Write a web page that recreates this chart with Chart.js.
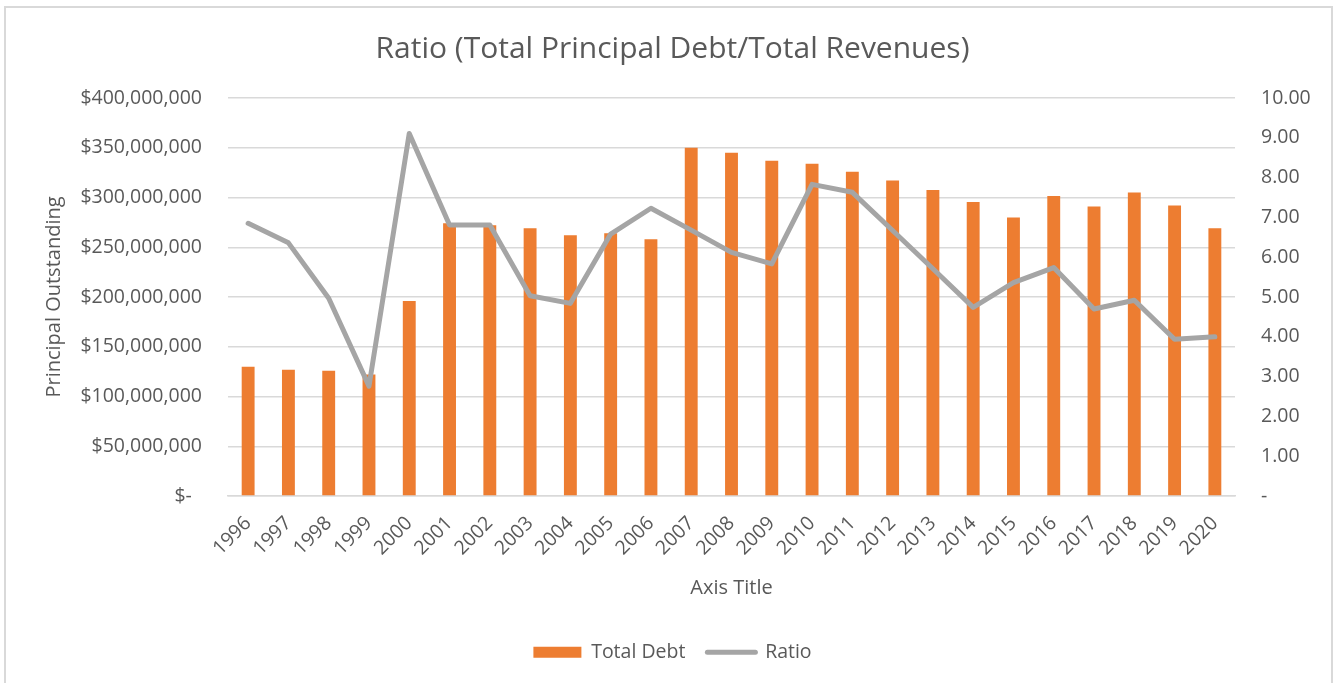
<!DOCTYPE html>
<html>
<head>
<meta charset="utf-8">
<script src="https://cdn.jsdelivr.net/npm/chart.js@4.4.0/dist/chart.umd.min.js"></script>
<style>
  html, body { margin: 0; padding: 0; background: #fff; }
  #wrap { position: absolute; left: 0; top: 0; width: 1333px; height: 683px; }
</style>
</head>
<body>
<div id="wrap"><canvas id="c" width="1333" height="683"></canvas></div>
<script>
const years = ['1996','1997','1998','1999','2000','2001','2002','2003','2004','2005','2006','2007','2008','2009','2010','2011','2012','2013','2014','2015','2016','2017','2018','2019','2020'];
const totalDebt = [130000000, 127000000, 126000000, 122000000, 196000000, 274000000, 272000000, 269000000, 262000000, 264000000, 258000000, 350000000, 345000000, 337000000, 334000000, 326000000, 317000000, 307500000, 295500000, 280000000, 301500000, 291000000, 305000000, 292000000, 269000000];
const ratio = [6.85, 6.36, 4.97, 2.76, 9.11, 6.81, 6.81, 5.03, 4.84, 6.58, 7.23, 6.68, 6.12, 5.83, 7.83, 7.63, 6.67, 5.71, 4.74, 5.36, 5.74, 4.70, 4.92, 3.94, 4.00];
const leftTicks = [0, 50000000, 100000000, 150000000, 200000000, 250000000, 300000000, 350000000, 400000000];
const rightTicks = [0, 1, 2, 3, 4, 5, 6, 7, 8, 9, 10];

const FONT = "'Open Sans', 'DejaVu Sans', sans-serif";
const TXT = '#595959';
const GRID = '#D9D9D9';
const ORANGE = '#ED7D31';
const GRAY = '#A5A5A5';

const PAD_LEFT = 12;
const PLOT_LEFT = 228, PLOT_RIGHT = 1235, PLOT_BOTTOM = 496, PAD_BOTTOM = 11;

const borderPlugin = {
  id: 'frame',
  beforeDraw(chart) {
    const ctx = chart.ctx;
    ctx.save();
    ctx.fillStyle = '#fff';
    ctx.fillRect(0, 0, chart.width, chart.height);
    ctx.strokeStyle = GRID;
    ctx.lineWidth = 2;
    ctx.strokeRect(5, 7, 1327, 700);
    ctx.restore();
  }
};

new Chart(document.getElementById('c'), {
  type: 'bar',
  data: {
    labels: years,
    datasets: [
      {
        type: 'bar',
        label: 'Total Debt',
        data: totalDebt,
        backgroundColor: ORANGE,
        borderWidth: 0,
        yAxisID: 'y',
        order: 2,
        categoryPercentage: 1,
        barPercentage: 0.32
      },
      {
        type: 'line',
        label: 'Ratio',
        data: ratio,
        borderColor: GRAY,
        backgroundColor: GRAY,
        borderWidth: 5,
        pointRadius: 0,
        pointHoverRadius: 0,
        tension: 0,
        borderCapStyle: 'round',
        borderJoinStyle: 'round',
        yAxisID: 'y1',
        order: 1
      }
    ]
  },
  options: {
    responsive: false,
    animation: false,
    devicePixelRatio: 1,
    layout: { padding: { left: PAD_LEFT, right: 0, top: 0, bottom: PAD_BOTTOM } },
    plugins: {
      tooltip: { enabled: false },
      title: {
        display: true,
        text: 'Ratio (Total Principal Debt/Total Revenues)',
        color: TXT,
        font: { family: FONT, size: 30, weight: 'normal' },
        padding: { top: 31, bottom: 31 }
      },
      legend: {
        display: true,
        position: 'bottom',
        labels: {
          color: TXT,
          font: { family: FONT, size: 19.5 },
          usePointStyle: true,
          pointStyleWidth: 48,
          boxHeight: 11,
          padding: 22,
          generateLabels() {
            return [
              { text: 'Total Debt', fillStyle: ORANGE, strokeStyle: ORANGE, lineWidth: 0, pointStyle: 'rect', datasetIndex: 0, hidden: false, fontColor: TXT },
              { text: 'Ratio', fillStyle: GRAY, strokeStyle: GRAY, lineWidth: 5, lineCap: 'round', pointStyle: 'line', datasetIndex: 1, hidden: false, fontColor: TXT }
            ];
          }
        }
      }
    },
    scales: {
      x: {
        grid: { display: false },
        border: { display: true, color: GRID, width: 1.5 },
        ticks: {
          color: TXT,
          font: { family: FONT, size: 19.5 },
          autoSkip: false,
          minRotation: 45,
          maxRotation: 45,
          padding: 8
        },
        title: {
          display: true,
          text: 'Axis Title',
          color: TXT,
          font: { family: FONT, size: 20 },
          padding: { top: 0, bottom: 20 }
        },
        afterFit(scale) {
          const lg = scale.chart.legend ? scale.chart.legend.height : 0;
          scale.height = 683 - PAD_BOTTOM - lg - PLOT_BOTTOM;
        }
      },
      y: {
        position: 'left',
        min: 0,
        max: 400000000,
        afterBuildTicks(scale) { scale.ticks = leftTicks.map(v => ({ value: v })); },
        grid: { color: GRID, lineWidth: 1.5, drawTicks: false },
        border: { display: false },
        ticks: {
          color: TXT,
          font: { family: FONT, size: 19.5 },
          padding: 26,
          callback(v) { return v === 0 ? '$-  ' : '$' + Number(v).toLocaleString('en-US'); }
        },
        title: {
          display: true,
          text: 'Principal Outstanding',
          color: TXT,
          font: { family: FONT, size: 20 },
          padding: { top: 30, bottom: 0 }
        },
        afterFit(scale) { scale.width = PLOT_LEFT - PAD_LEFT; }
      },
      y1: {
        position: 'right',
        min: 0,
        max: 10,
        afterBuildTicks(scale) { scale.ticks = rightTicks.map(v => ({ value: v })); },
        grid: { display: false, drawTicks: false },
        border: { display: false },
        ticks: {
          color: TXT,
          font: { family: FONT, size: 19.5 },
          padding: 26,
          callback(v) { return v === 0 ? '-' : Number(v).toFixed(2); }
        },
        afterFit(scale) { scale.width = 1333 - PLOT_RIGHT; }
      }
    }
  },
  plugins: [borderPlugin]
});
</script>
</body>
</html>
